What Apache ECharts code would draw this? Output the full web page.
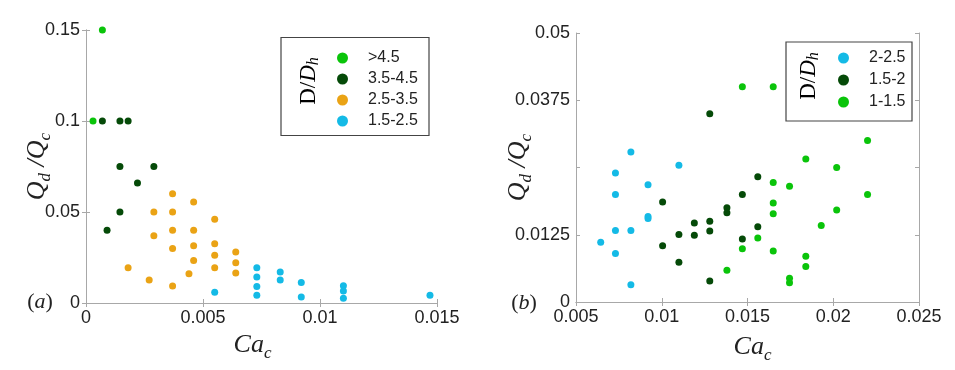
<!DOCTYPE html>
<html>
<head>
<meta charset="utf-8">
<script src="https://cdn.jsdelivr.net/npm/echarts@6/dist/echarts.min.js"></script>
<style>
html,body{margin:0;padding:0;background:#fff;}
#chart{width:955px;height:370px;}
</style>
</head>
<body>
<div id="chart"></div>
<script>
// ---- data (a) ----
const leftXTicks = [0, 0.005, 0.01, 0.015];
const leftYTicks = [0, 0.05, 0.1, 0.15];
const leftNames = ['>4.5', '3.5-4.5', '2.5-3.5', '1.5-2.5'];
const leftGt45 = [[0.0007,0.15],[0.0003,0.1]];
const left3545 = [[0.0007,0.1],[0.00145,0.1],[0.0018,0.1],[0.00145,0.075],[0.0029,0.075],[0.0022,0.066],[0.00145,0.05],[0.0009,0.04]];
const left2535 = [[0.0037,0.06],[0.0046,0.0555],[0.0029,0.05],[0.0037,0.05],[0.0055,0.046],[0.0029,0.037],[0.0037,0.04],[0.0046,0.04],[0.0037,0.03],[0.0046,0.0315],[0.0055,0.0326],[0.0064,0.028],[0.0046,0.0234],[0.0055,0.0262],[0.0064,0.0221],[0.0018,0.0194],[0.0055,0.0194],[0.0064,0.0165],[0.0027,0.0126],[0.0044,0.0161],[0.0037,0.0093]];
const left1525 = [[0.0055,0.0059],[0.0073,0.0194],[0.0073,0.0143],[0.0073,0.0091],[0.0073,0.0042],[0.0083,0.017],[0.0083,0.0126],[0.0092,0.0113],[0.0092,0.0033],[0.011,0.0095],[0.011,0.0066],[0.011,0.0026],[0.0147,0.0042]];

// ---- data (b) ----
const rightXTicks = [0.005, 0.01, 0.015, 0.02, 0.025];
const rightYTicks = [0, 0.0125, 0.025, 0.0375, 0.05];
const rightYTickLabels = ['0', '0.0125', '', '0.0375', '0.05'];
const rightNames = ['2-2.5', '1.5-2', '1-1.5'];
const right2025 = [[0.00644,0.0111],[0.0073,0.024],[0.0073,0.02],[0.0073,0.0133],[0.0073,0.009],[0.0082,0.0279],[0.0082,0.0133],[0.0082,0.0032],[0.0092,0.0218],[0.0092,0.0159],[0.0092,0.0155],[0.011,0.0254]];
const right1520 = [[0.01005,0.0186],[0.01005,0.01045],[0.011,0.01255],[0.011,0.0074],[0.0119,0.0147],[0.0119,0.0124],[0.0128,0.035],[0.0128,0.015],[0.0128,0.0132],[0.0128,0.0039],[0.0138,0.0175],[0.0138,0.0166],[0.0147,0.02],[0.0147,0.0117],[0.0156,0.0233],[0.0156,0.014]];
const right1015 = [[0.0147,0.04],[0.0165,0.04],[0.0138,0.0059],[0.0147,0.0099],[0.0156,0.0119],[0.0165,0.0222],[0.0165,0.0184],[0.0165,0.0164],[0.0165,0.0095],[0.01745,0.0215],[0.01745,0.0044],[0.01745,0.0036],[0.0184,0.0266],[0.0184,0.0085],[0.0184,0.0066],[0.0193,0.0142],[0.0202,0.025],[0.0202,0.0171],[0.022,0.03],[0.022,0.02]];

const C_BRIGHT = '#0ac40a', C_DARK = '#054a08', C_ORANGE = '#eaa315', C_CYAN = '#14bae6';
const AX = '#a8a8a8';
const SANS = '"Liberation Sans", Arial, sans-serif';
const SERIF = '"Liberation Serif", "Times New Roman", serif';

const chart = echarts.init(document.getElementById('chart'), null, {renderer: 'canvas'});

function baseAxis(o) {
  return Object.assign({
    type: 'value',
    axisLine: {show: true, lineStyle: {color: AX, width: 1}},
    axisTick: {show: true, inside: true, length: 4, lineStyle: {color: AX}},
    splitLine: {show: false},
    axisLabel: {show: false},
    nameMoveOverlap: false
  }, o);
}
function labelStyle(extra) {
  return Object.assign({show: true, color: '#222', fontFamily: SANS, fontSize: 18, margin: 6}, extra || {});
}
const richName = {
  m: {fontFamily: SERIF, fontStyle: 'italic', fontSize: 26, color: '#222', lineHeight: 30, verticalAlign: 'middle'},
  s: {fontFamily: SERIF, fontStyle: 'italic', fontSize: 17, color: '#222', lineHeight: 30, verticalAlign: 'bottom', padding: [0,0,-2,0]}
};
const yName = '{m|Q}{s|d}{m| /Q}{s|c}';
const xName = '{m|Ca}{s|c}';

function fmtFrom(ticks, labels) {
  return function (v) {
    for (let i = 0; i < ticks.length; i++) if (Math.abs(ticks[i] - v) < 1e-9) return labels ? labels[i] : String(ticks[i]);
    return '';
  };
}

const leftGrid = {left: 86, top: 30, width: 351, height: 273};
const rightGrid = {left: 576, top: 33, width: 343, height: 269};

function scatter(name, data, color, xi, yi) {
  return {type: 'scatter', name: name, data: data, xAxisIndex: xi, yAxisIndex: yi,
    symbol: 'circle', symbolSize: 7, clip: false, itemStyle: {color: color, opacity: 1},
    emphasis: {disabled: true}};
}
const legendTitle = {
  u: {fontFamily: SERIF, fontSize: 23, color: '#222'},
  i: {fontFamily: SERIF, fontStyle: 'italic', fontSize: 23, color: '#222'},
  s: {fontFamily: SERIF, fontStyle: 'italic', fontSize: 16, color: '#222', padding: [9,0,0,0]}
};

const option = {
  animation: false,
  backgroundColor: '#fff',
  grid: [
    Object.assign({show: false}, leftGrid),
    Object.assign({show: false}, rightGrid)
  ],
  xAxis: [
    baseAxis({gridIndex: 0, position: 'bottom', min: leftXTicks[0], max: leftXTicks[leftXTicks.length-1], interval: 0.005,
      axisLabel: labelStyle({formatter: fmtFrom(leftXTicks)}),
      name: xName, nameLocation: 'middle', nameGap: 27, nameTextStyle: {rich: richName, padding: [0,18,0,0]}}),
    baseAxis({gridIndex: 0, position: 'top', min: leftXTicks[0], max: leftXTicks[leftXTicks.length-1], interval: 0.005}),
    baseAxis({gridIndex: 1, position: 'bottom', min: rightXTicks[0], max: rightXTicks[rightXTicks.length-1], interval: 0.005,
      axisLabel: labelStyle({formatter: fmtFrom(rightXTicks)}),
      name: xName, nameLocation: 'middle', nameGap: 30, nameTextStyle: {rich: richName, padding: [0,0,0,10]}}),
    baseAxis({gridIndex: 1, position: 'top', min: rightXTicks[0], max: rightXTicks[rightXTicks.length-1], interval: 0.005})
  ],
  yAxis: [
    baseAxis({gridIndex: 0, position: 'left', min: leftYTicks[0], max: leftYTicks[leftYTicks.length-1], interval: 0.05,
      axisLabel: labelStyle({formatter: fmtFrom(leftYTicks)}),
      name: yName, nameLocation: 'middle', nameRotate: 90, nameGap: 34, nameTextStyle: {rich: richName}}),
    baseAxis({gridIndex: 0, position: 'right', min: leftYTicks[0], max: leftYTicks[leftYTicks.length-1], interval: 0.05}),
    baseAxis({gridIndex: 1, position: 'left', min: rightYTicks[0], max: rightYTicks[rightYTicks.length-1], interval: 0.0125,
      axisLabel: labelStyle({formatter: fmtFrom(rightYTicks, rightYTickLabels)}),
      name: yName, nameLocation: 'middle', nameRotate: 90, nameGap: 43, nameTextStyle: {rich: richName}}),
    baseAxis({gridIndex: 1, position: 'right', min: rightYTicks[0], max: rightYTicks[rightYTicks.length-1], interval: 0.0125})
  ],
  legend: [
    {data: leftNames, orient: 'vertical', left: 332, top: 45, icon: 'circle', itemWidth: 11, itemHeight: 11, itemGap: 5,
      selectedMode: false, textStyle: {fontFamily: SANS, fontSize: 16, color: '#222', lineHeight: 16, padding: [0,0,0,15]}},
    {data: rightNames, orient: 'vertical', left: 833, top: 45, icon: 'circle', itemWidth: 11, itemHeight: 11, itemGap: 6,
      selectedMode: false, textStyle: {fontFamily: SANS, fontSize: 16, color: '#222', lineHeight: 16, padding: [0,0,0,15]}}
  ],
  graphic: [
    {type: 'rect', shape: {x: 281, y: 37.5, width: 148, height: 98}, style: {fill: 'none', stroke: '#444', lineWidth: 1.2}, z: 10},
    {type: 'rect', shape: {x: 786, y: 42, width: 126, height: 79}, style: {fill: 'none', stroke: '#444', lineWidth: 1.2}, z: 10},
    {type: 'text', x: 309, y: 81, rotation: Math.PI/2, z: 10, style: {text: '{u|D/}{i|D}{s|h}', align: 'center', verticalAlign: 'middle', rich: legendTitle}},
    {type: 'text', x: 809, y: 76, rotation: Math.PI/2, z: 10, style: {text: '{u|D/}{i|D}{s|h}', align: 'center', verticalAlign: 'middle', rich: legendTitle}},
    {type: 'text', x: 40, y: 302, z: 10, style: {text: '({i|a})', align: 'center', verticalAlign: 'middle',
      fontFamily: SERIF, fontSize: 22, fill: '#222', rich: {i: {fontFamily: SERIF, fontStyle: 'italic', fontSize: 22, color: '#222'}}}},
    {type: 'text', x: 524, y: 303, z: 10, style: {text: '({i|b})', align: 'center', verticalAlign: 'middle',
      fontFamily: SERIF, fontSize: 22, fill: '#222', rich: {i: {fontFamily: SERIF, fontStyle: 'italic', fontSize: 22, color: '#222'}}}}
  ],
  series: [
    scatter(leftNames[0], leftGt45, C_BRIGHT, 0, 0),
    scatter(leftNames[1], left3545, C_DARK, 0, 0),
    scatter(leftNames[2], left2535, C_ORANGE, 0, 0),
    scatter(leftNames[3], left1525, C_CYAN, 0, 0),
    scatter(rightNames[0], right2025, C_CYAN, 2, 2),
    scatter(rightNames[1], right1520, C_DARK, 2, 2),
    scatter(rightNames[2], right1015, C_BRIGHT, 2, 2)
  ]
};
chart.setOption(option);
</script>
</body>
</html>
